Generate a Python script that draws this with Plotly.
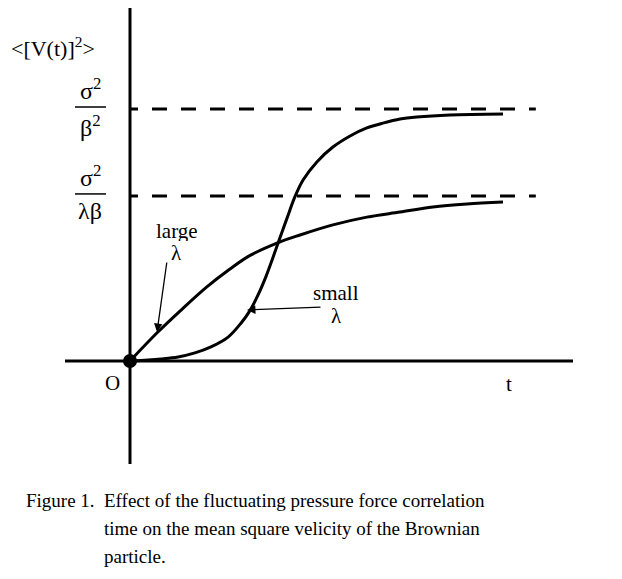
import plotly.graph_objects as go

# 曲线数据 (t 无量纲, 纵轴以 sigma^2/beta^2 为 1)
t_small = [0, 0.48, 0.83, 1.29, 1.74, 2.17, 2.63, 2.98, 3.22, 3.43, 3.65, 3.81, 3.97, 4.21,
           4.42, 4.64, 5.01, 5.44, 5.90, 6.35, 6.78, 7.24, 7.69, 8.58, 10.0]
v_small = [0, 0.004, 0.008, 0.016, 0.032, 0.056, 0.095, 0.151, 0.201, 0.261, 0.337, 0.401, 0.468, 0.567,
           0.651, 0.718, 0.790, 0.849, 0.893, 0.925, 0.944, 0.960, 0.968, 0.976, 0.980]

t_large = [0, 0.72, 1.34, 2.06, 2.68, 3.22, 3.94, 4.56, 5.44, 6.35, 7.24, 8.12, 9.03, 10.0]
v_large = [0, 0.111, 0.198, 0.294, 0.365, 0.419, 0.468, 0.500, 0.540, 0.571, 0.591, 0.611, 0.623, 0.631]

level_nums = ['σ<sup>2</sup>', 'σ<sup>2</sup>']
level_dens = ['β<sup>2</sup>', 'λβ']
level_values = [1.0, 0.655]
t_dash_end = 10.88

# 截图像素 -> 数据坐标 (页面有 8px 边距, 原点在像素 (130, 361))
SX, SY = 37.3, 252.0
def X(px):
    return (px - 130) / SX

def Y(py):
    return (361 - py) / SY

SERIF = 'Liberation Serif, Times New Roman, serif'
def font(size):
    return dict(family=SERIF, size=size, color='black')

# 虚线: 第一段较短, 与原图相位一致
DASH = '8px,14px,' + '15px,14px,' * 14
DASH = DASH.rstrip(',')

fig = go.Figure()

# 渐近线
for v in level_values:
    fig.add_trace(go.Scatter(x=[0, t_dash_end], y=[v, v], mode='lines',
                             line=dict(color='black', width=3, dash=DASH),
                             showlegend=False, hoverinfo='skip'))

fig.add_trace(go.Scatter(x=t_large, y=v_large, mode='lines', line_shape='spline',
                         line=dict(color='black', width=3), showlegend=False))
fig.add_trace(go.Scatter(x=t_small, y=v_small, mode='lines', line_shape='spline',
                         line=dict(color='black', width=3), showlegend=False))

# 坐标轴
fig.add_shape(type='line', x0=X(65), x1=X(573), y0=0, y1=0, line=dict(color='black', width=3))
fig.add_shape(type='line', x0=0, x1=0, y0=Y(464), y1=Y(0), line=dict(color='black', width=3))

# 原点
fig.add_trace(go.Scatter(x=[0], y=[0], mode='markers', marker=dict(color='black', size=14),
                         showlegend=False))

# 纵轴分数标签
for num, den, v in zip(level_nums, level_dens, level_values):
    fig.add_annotation(x=X(90), y=v + 3 / SY, text=num, showarrow=False, font=font(24),
                       yanchor='bottom')
    fig.add_annotation(x=X(90), y=v, text=den, showarrow=False, font=font(24),
                       yanchor='top')
    fig.add_shape(type='line', x0=X(75), x1=X(106), y0=v + 2 / SY, y1=v + 2 / SY,
                  line=dict(color='black', width=1.5))

fig.add_annotation(x=X(9), y=Y(47), text='&lt;[V(t)]<sup>2</sup>&gt;', showarrow=False,
                   font=font(22), xanchor='left')

texts = [
    ('O', 112, 383),
    ('t', 509, 384),
    ('large', 177, 230),
    ('λ', 176, 252),
    ('small', 336, 292),
    ('λ', 336, 315),
]
for txt, px, py in texts:
    fig.add_annotation(x=X(px), y=Y(py), text=txt, showarrow=False, font=font(21),
                       height=21 if txt in ('large', 'small', 'λ') else None)

# 箭头
for (hx, hy), (tx, ty) in [((157, 332), (167, 261)), ((247, 310), (322, 307))]:
    fig.add_annotation(x=X(hx), y=Y(hy), ax=X(tx), ay=Y(ty), axref='x', ayref='y',
                       text='', showarrow=True, arrowhead=2, arrowsize=1.3,
                       arrowwidth=1.3, arrowcolor='black')

# 图注
fig.add_annotation(x=X(97), y=Y(500), text='Figure 1.', showarrow=False, font=font(19),
                   xanchor='right')
caption = ['Effect of the fluctuating pressure force correlation',
           'time on the mean square velicity of the Brownian',
           'particle.']
for i, line in enumerate(caption):
    fig.add_annotation(x=X(102), y=Y(500 + 28 * i), text=line, showarrow=False,
                       font=font(19), xanchor='left')

fig.update_layout(
    width=614, height=571,
    margin=dict(l=0, r=0, t=0, b=0),
    plot_bgcolor='white', paper_bgcolor='white',
    xaxis=dict(range=[X(8), X(622)], visible=False),
    yaxis=dict(range=[Y(579), Y(8)], visible=False),
    showlegend=False,
)

fig.write_html('out.html')
